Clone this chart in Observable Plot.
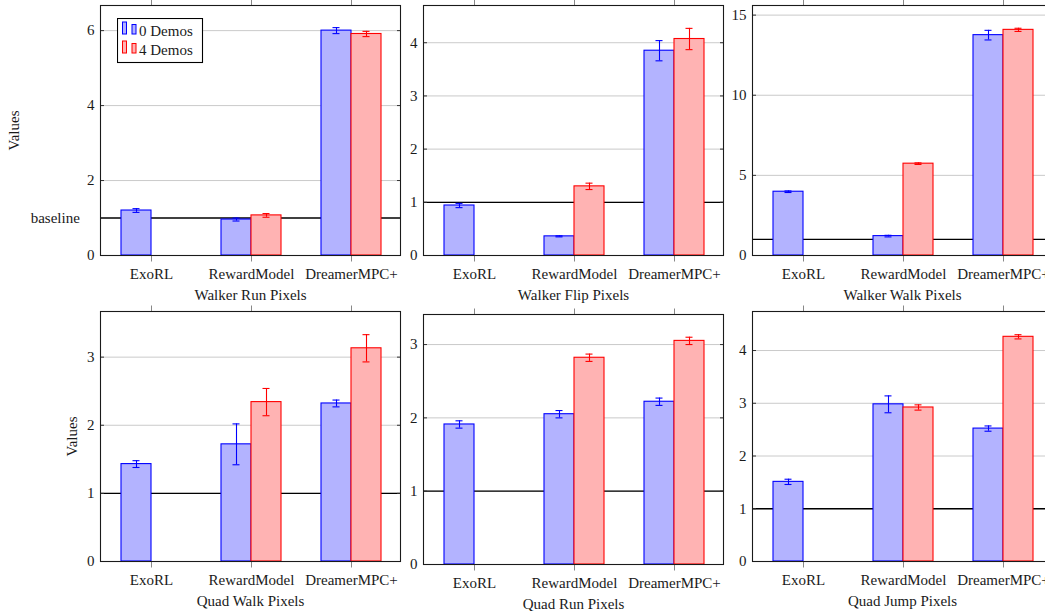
<!DOCTYPE html>
<html>
<head>
<meta charset="utf-8">
<script src="https://cdn.jsdelivr.net/npm/d3@7"></script>
<script src="https://cdn.jsdelivr.net/npm/@observablehq/plot@0.6"></script>
<style>
  body { margin: 0; background: #fff; }
  #chart { position: relative; width: 1045px; height: 611px; overflow: hidden; font-family: "Liberation Serif", "Times New Roman", Times, "DejaVu Serif", serif; }
  .panel { position: absolute; }
  .panel svg { overflow: visible; max-width: none !important; }
  .panel svg, .panel svg text { font-family: "Liberation Serif", "Times New Roman", Times, "DejaVu Serif", serif !important; }
</style>
</head>
<body>
<div id="chart"></div>
<script>
// ---- data ----
const categories = ["ExoRL", "RewardModel", "DreamerMPC+"];
const seriesNames = ["0 Demos", "4 Demos"];
const tasks = ["Walker Run Pixels", "Walker Flip Pixels", "Walker Walk Pixels",
               "Quad Walk Pixels", "Quad Run Pixels", "Quad Jump Pixels"];
const demos0 = [
  [1.20, 0.96, 6.00],
  [0.94, 0.36, 3.85],
  [3.98, 1.21, 13.75],
  [1.43, 1.72, 2.32],
  [1.91, 2.05, 2.22],
  [1.51, 2.98, 2.52]
];
const demos0Err = [
  [0.05, 0.04, 0.08],
  [0.04, 0.01, 0.19],
  [0.05, 0.05, 0.30],
  [0.05, 0.30, 0.05],
  [0.05, 0.05, 0.05],
  [0.05, 0.16, 0.05]
];
const demos4 = [
  [null, 1.07, 5.91],
  [null, 1.30, 4.07],
  [null, 5.73, 14.08],
  [null, 2.34, 3.13],
  [null, 2.82, 3.05],
  [null, 2.92, 4.26]
];
const demos4Err = [
  [null, 0.05, 0.07],
  [null, 0.06, 0.20],
  [null, 0.05, 0.10],
  [null, 0.20, 0.20],
  [null, 0.05, 0.05],
  [null, 0.05, 0.04]
];
const yMax = [6.67, 4.70, 15.6, 3.67, 3.41, 4.74];
const yTicks = [[0, 2, 4, 6], [0, 1, 2, 3, 4], [0, 5, 10, 15], [0, 1, 2, 3], [0, 1, 2, 3], [0, 1, 2, 3, 4]];
const baselineValue = 1;
const yLabel = "Values";
const baselineLabel = "baseline";

// ---- layout ----
const frames = [
  {x: 100, y: 5}, {x: 422.5, y: 5}, {x: 751.7, y: 5},
  {x: 100, y: 310.7}, {x: 422.5, y: 313.8}, {x: 751.7, y: 310.7}
];
const FW = 300, FH = 250;
const FONT = "'Liberation Serif', 'Times New Roman', Times, 'DejaVu Serif', serif";
const colors = {
  "0 Demos": {fill: "#b3b3ff", stroke: "#0000ff"},
  "4 Demos": {fill: "#ffb3b3", stroke: "#ff0000"}
};
const padInner = 0.4, padOuter = 0.2;
const step = FW / (categories.length - padInner + 2 * padOuter);
const bandW = step * (1 - padInner);
const half = bandW / 2;
const capHalf = 3.5;

const chart = document.getElementById("chart");

function panel(i) {
  const rows = [];
  categories.forEach((c, j) => {
    if (demos0[i][j] != null) rows.push({method: c, series: seriesNames[0], value: demos0[i][j], err: demos0Err[i][j]});
    if (demos4[i][j] != null) rows.push({method: c, series: seriesNames[1], value: demos4[i][j], err: demos4Err[i][j]});
  });
  const s0 = rows.filter(d => d.series === seriesNames[0]);
  const s4 = rows.filter(d => d.series === seriesNames[1]);
  const isLeft = i % 3 === 0;
  const ml = isLeft ? 100 : 40, mr = 10, mt = 10, mb = 50;
  const sw = 1.1;

  const marks = [
    Plot.gridY({ticks: yTicks[i].filter(t => t !== 0), stroke: "#c4c4c4", strokeOpacity: 1, strokeWidth: 0.9}),
    Plot.ruleY([baselineValue], {stroke: "#000", strokeWidth: 1.3}),
    Plot.barY(s0, {x: "method", y: "value", fill: colors["0 Demos"].fill, stroke: colors["0 Demos"].stroke, strokeWidth: sw, insetRight: half}),
    Plot.barY(s4, {x: "method", y: "value", fill: colors["4 Demos"].fill, stroke: colors["4 Demos"].stroke, strokeWidth: sw, insetLeft: half}),
    // error bars
    Plot.ruleX(s0, {x: "method", y1: d => d.value - d.err, y2: d => d.value + d.err, dx: -half / 2, stroke: colors["0 Demos"].stroke, strokeWidth: sw}),
    Plot.ruleX(s4, {x: "method", y1: d => d.value - d.err, y2: d => d.value + d.err, dx: half / 2, stroke: colors["4 Demos"].stroke, strokeWidth: sw}),
    Plot.tickY(s0, {x: "method", y: d => d.value + d.err, insetLeft: half / 2 - capHalf, insetRight: bandW - half / 2 - capHalf, stroke: colors["0 Demos"].stroke, strokeWidth: sw}),
    Plot.tickY(s0, {x: "method", y: d => d.value - d.err, insetLeft: half / 2 - capHalf, insetRight: bandW - half / 2 - capHalf, stroke: colors["0 Demos"].stroke, strokeWidth: sw}),
    Plot.tickY(s4, {x: "method", y: d => d.value + d.err, insetLeft: half + half / 2 - capHalf, insetRight: half / 2 - capHalf, stroke: colors["4 Demos"].stroke, strokeWidth: sw}),
    Plot.tickY(s4, {x: "method", y: d => d.value - d.err, insetLeft: half + half / 2 - capHalf, insetRight: half / 2 - capHalf, stroke: colors["4 Demos"].stroke, strokeWidth: sw}),
    // axes
    Plot.axisY({ticks: yTicks[i], anchor: "left", tickSize: -4, tickPadding: 10, tickFormat: d => String(d), stroke: "#333", label: null}),
    Plot.axisY({ticks: yTicks[i], anchor: "right", tickSize: -4, tickFormat: () => "", stroke: "#333", label: null}),
    Plot.axisX({anchor: "bottom", tickSize: 6.5, tickPadding: 6.2, stroke: "#888", label: null}),
    Plot.axisX({anchor: "top", tickSize: 6.5, tickFormat: () => "", stroke: "#888", label: null}),
    Plot.frame({stroke: "#1a1a1a", strokeWidth: 1.1}),
    Plot.text([tasks[i]], {text: d => d, frameAnchor: "bottom", dy: 44, lineAnchor: "bottom"})
  ];
  if (isLeft) {
    marks.push(Plot.text([yLabel], {text: d => d, frameAnchor: "left", dx: i === 0 ? -86.2 : -28, rotate: -90, textAnchor: "middle", lineAnchor: "middle"}));
  }
  if (i === 0) {
    marks.push(Plot.text([baselineLabel], {text: d => d, y: () => baselineValue, frameAnchor: "left", dx: -20.7, textAnchor: "end"}));
  }

  const W = ml + FW + mr, H = mt + FH + mb;
  const svg = Plot.plot({
    width: W,
    height: H,
    marginLeft: ml, marginRight: mr, marginTop: mt, marginBottom: mb,
    style: {fontFamily: FONT, fontSize: "15px", color: "#1a1a1a", background: "transparent", overflow: "visible", maxWidth: "none"},
    x: {type: "band", domain: categories, paddingInner: padInner, paddingOuter: padOuter, align: 0.52, label: null},
    y: {domain: [0, yMax[i]], label: null},
    marks
  });
  const div = document.createElement("div");
  div.className = "panel";
  div.style.left = (frames[i].x - ml) + "px";
  div.style.top = (frames[i].y - mt) + "px";
  div.style.width = W + "px";
  div.style.height = H + "px";
  div.appendChild(svg);
  chart.appendChild(div);
}

tasks.forEach((t, i) => panel(i));

// ---- legend (inside first panel) ----
const lg = d3.select(chart).append("svg")
  .style("position", "absolute").style("left", "117px").style("top", "18px")
  .attr("width", 87).attr("height", 46)
  .style("font-family", FONT).style("font-size", "15px");
lg.append("rect").attr("x", 0.5).attr("y", 0.5).attr("width", 85).attr("height", 44)
  .attr("fill", "#fff").attr("stroke", "#000").attr("stroke-width", 1.1);
seriesNames.forEach((s, k) => {
  const g = lg.append("g").attr("transform", `translate(0,${k * 19})`);
  g.append("rect").attr("x", 5.5).attr("y", 4).attr("width", 4).attr("height", 12)
    .attr("fill", colors[s].fill).attr("stroke", colors[s].stroke);
  g.append("rect").attr("x", 15).attr("y", 6.5).attr("width", 4).attr("height", 9.5)
    .attr("fill", colors[s].fill).attr("stroke", colors[s].stroke);
  g.append("text").attr("x", 22).attr("y", 17.7).attr("fill", "#1a1a1a").text(s);
});
</script>
</body>
</html>
